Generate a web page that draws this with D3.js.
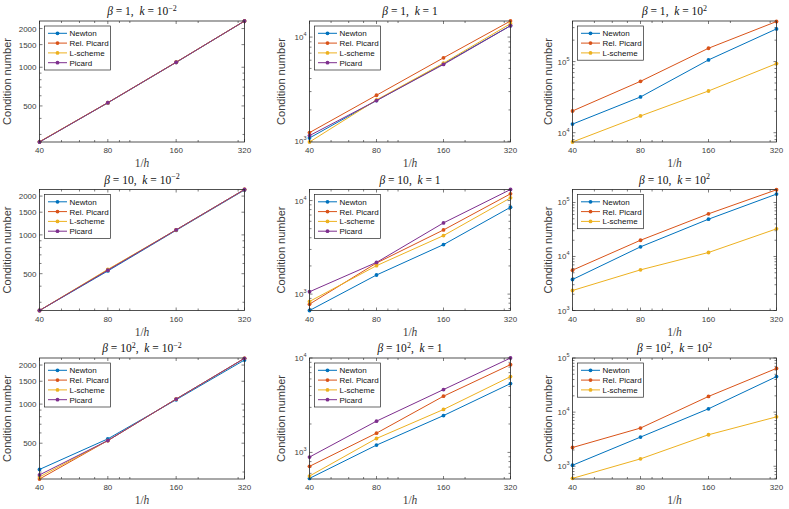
<!DOCTYPE html>
<html><head><meta charset="utf-8">
<script src="https://cdn.jsdelivr.net/npm/d3@7"></script>
<style>
body{margin:0;background:#fff}
</style>
</head><body>
<svg id="c" width="789" height="509"></svg>
<script>
// ---------- data ----------
const xValues = [40, 80, 160, 320];
const xTickLabels = ["40", "80", "160", "320"];
const xMinorTicks = [50, 60, 70, 90, 100, 200, 300];
const seriesNames = ["Newton", "Rel. Picard", "L-scheme", "Picard"];
const seriesColors = ["#0072BD", "#D95319", "#EDB120", "#7E2F8E"];
const linearYTicks = [500, 1000, 1500, 2000];

const betaBase = ["1", "10", "10"];
const betaExp  = ["", "", "2"];
const kBase    = ["10", "1", "10"];
const kExp     = ["\u22122", "", "2"];

// each panel: [Newton, Rel. Picard, L-scheme, Picard]
const b1_k001  = [[262, 528, 1090, 2285], [263, 530, 1094, 2290], [263, 530, 1094, 2290], [262, 530, 1094, 2290]];
const b1_k1    = [[1077, 2460, 5545, 12850], [1212, 2767, 6325, 14260], [985, 2495, 5625, 13430], [1134, 2460, 5460, 12850]];
const b1_k100  = [[13200, 31800, 105500, 288000], [20200, 52800, 154000, 366000], [7400, 17200, 38600, 93700]];
const b10_k001 = [[259, 525, 1085, 2230], [259, 535, 1094, 2250], [259, 540, 1094, 2250], [259, 532, 1094, 2250]];
const b10_k1   = [[668, 1600, 3380, 8480], [781, 2148, 4850, 11790], [834, 2013, 4220, 10680], [1059, 2182, 5770, 13120]];
const b10_k100 = [[3750, 15100, 49100, 143000], [5580, 20000, 61700, 172000], [2345, 5660, 11860, 32500]];
const b100_k001= [[314, 540, 1081, 2187], [265, 524, 1094, 2254], [275, 524, 1094, 2254], [285, 524, 1094, 2254]];
const b100_k1  = [[531, 1195, 2455, 5360], [712, 1600, 3940, 8500], [562, 1405, 2850, 6350], [893, 2145, 4630, 10000]];
const b100_k100= [[1045, 3460, 11530, 45300], [2220, 5080, 19500, 64300], [598, 1370, 3820, 8190]];

const panelData = [b1_k001, b1_k1, b1_k100, b10_k001, b10_k1, b10_k100, b100_k001, b100_k1, b100_k100];
const yDomains = [[262, 2290], [985, 14260], [7400, 372000],
                  [259, 2250], [668, 13120], [1000, 174000],
                  [265, 2266], [523, 10000], [582, 100000]];
const linearLabelPanel = [true, false, false, true, false, false, true, false, false];

// ---------- layout ----------
const colLeft = [39.5, 309.5, 572.5];
const colWidth = [205, 201, 204];
const rowTop = [21, 189.5, 358];
const plotH = 121;
const ylabelOffset = [-29, -25, -21];
const ink = "#262626";
const textInk = "#3c3c3c";
const sans = "'Liberation Sans', Arial, Helvetica, sans-serif";
const serif = "'Liberation Serif', 'Times New Roman', serif";

const svg = d3.select("#c");

panelData.forEach((series, p) => {
  const r = Math.floor(p / 3), c = p % 3;
  const L = colLeft[c], T = rowTop[r], W = colWidth[c], H = plotH;
  const x = d3.scaleLog().domain([40, 320]).range([L, L + W]);
  const y = d3.scaleLog().domain(yDomains[p]).range([T + H, T]);
  const g = svg.append("g");

  const [y0, y1] = yDomains[p];
  let majors, minors = [];
  if (linearLabelPanel[p]) {
    majors = linearYTicks.filter(v => v >= y0 && v <= y1);
  } else {
    majors = [];
    for (let e = 2; e <= 6; e++) { const v = Math.pow(10, e); if (v >= y0 * 0.999 && v <= y1 * 1.001) majors.push(v); }
  }
  for (let e = 2; e <= 6; e++) for (let d = 1; d <= 9; d++) {
    const v = d * Math.pow(10, e);
    if (v > y0 && v < y1 && !majors.includes(v) && !(linearLabelPanel[p] && d === 1)) minors.push(v);
  }
  if (linearLabelPanel[p]) minors = minors.filter(v => v < 1000);

  const tk = g.append("g").attr("stroke", ink).attr("stroke-width", 0.6);
  majors.forEach(v => {
    tk.append("line").attr("x1", L).attr("x2", L + 3).attr("y1", y(v)).attr("y2", y(v));
    tk.append("line").attr("x1", L + W).attr("x2", L + W - 3).attr("y1", y(v)).attr("y2", y(v));
  });
  minors.forEach(v => {
    tk.append("line").attr("x1", L).attr("x2", L + 2).attr("y1", y(v)).attr("y2", y(v));
    tk.append("line").attr("x1", L + W).attr("x2", L + W - 2).attr("y1", y(v)).attr("y2", y(v));
  });
  xValues.forEach(v => {
    tk.append("line").attr("x1", x(v)).attr("x2", x(v)).attr("y1", T + H).attr("y2", T + H - 3);
    tk.append("line").attr("x1", x(v)).attr("x2", x(v)).attr("y1", T).attr("y2", T + 3);
  });
  xMinorTicks.forEach(v => {
    tk.append("line").attr("x1", x(v)).attr("x2", x(v)).attr("y1", T + H).attr("y2", T + H - 2);
    tk.append("line").attr("x1", x(v)).attr("x2", x(v)).attr("y1", T).attr("y2", T + 2);
  });

  majors.forEach(v => {
    if (linearLabelPanel[p]) {
      g.append("text").attr("x", L - 3).attr("y", y(v) + 3)
        .attr("text-anchor", "end").attr("font-family", sans).attr("font-size", 8).attr("fill", textInk)
        .text(String(v));
    } else {
      const t = g.append("text").attr("x", L - 3).attr("y", y(v) + 3)
        .attr("text-anchor", "end").attr("font-family", sans).attr("font-size", 8).attr("fill", textInk);
      t.append("tspan").text("10");
      t.append("tspan").attr("dy", -4).attr("font-size", 5.5).text(String(Math.round(Math.log10(v))));
    }
  });

  xValues.forEach((v, i) => {
    g.append("text").attr("x", x(v)).attr("y", T + H + 11)
      .attr("text-anchor", "middle").attr("font-family", sans).attr("font-size", 8).attr("fill", textInk)
      .text(xTickLabels[i]);
  });

  const line = d3.line().x((d, i) => x(xValues[i])).y(d => y(d));
  series.forEach((vals, s) => {
    g.append("path").attr("d", line(vals)).attr("fill", "none")
      .attr("stroke", seriesColors[s]).attr("stroke-width", 1);
    vals.forEach((v, i) => {
      g.append("circle").attr("cx", x(xValues[i])).attr("cy", y(v)).attr("r", 1.9)
        .attr("fill", seriesColors[s]);
    });
  });

  g.append("rect").attr("x", L).attr("y", T).attr("width", W).attr("height", H)
    .attr("fill", "none").attr("stroke", ink).attr("stroke-width", 0.8);

  const n = series.length;
  const lx = L + 5, ly = T + 5, lw = 66, lh = 14.6 + (n - 1) * 9.8;
  const lg = g.append("g");
  lg.append("rect").attr("x", lx).attr("y", ly).attr("width", lw).attr("height", lh)
    .attr("fill", "#fff").attr("stroke", ink).attr("stroke-width", 0.7);
  for (let s = 0; s < n; s++) {
    const yy = ly + 7.3 + s * 9.8;
    lg.append("line").attr("x1", lx + 3.5).attr("x2", lx + 22.5).attr("y1", yy).attr("y2", yy)
      .attr("stroke", seriesColors[s]).attr("stroke-width", 1);
    lg.append("circle").attr("cx", lx + 13).attr("cy", yy).attr("r", 1.9).attr("fill", seriesColors[s]);
    lg.append("text").attr("x", lx + 25).attr("y", yy + 2.9)
      .attr("font-family", sans).attr("font-size", 8).attr("fill", "#111").text(seriesNames[s]);
  }

  g.append("text")
    .attr("transform", `translate(${L + ylabelOffset[c]},${T + H / 2}) rotate(-90)`)
    .attr("text-anchor", "middle").attr("font-family", sans).attr("font-size", 11).attr("fill", textInk)
    .text("Condition number");

  const xl = g.append("text").attr("x", L + W / 2).attr("y", T + H + 25)
    .attr("text-anchor", "middle").attr("font-family", serif).attr("font-size", 11.5).attr("fill", textInk);
  xl.append("tspan").text("1/");
  xl.append("tspan").attr("font-style", "italic").text("h");

  const tt = g.append("text").attr("x", L + W / 2).attr("y", T - 6)
    .attr("text-anchor", "middle").attr("font-family", serif).attr("font-size", 11.5).attr("fill", "#111");
  tt.append("tspan").attr("font-style", "italic").text("\u03B2");
  tt.append("tspan").text(" = " + betaBase[r]);
  if (betaExp[r]) {
    tt.append("tspan").attr("dy", -4.5).attr("font-size", 8).text(betaExp[r]);
    tt.append("tspan").attr("dy", 4.5).text(",\u2002");
  } else {
    tt.append("tspan").text(",\u2002");
  }
  tt.append("tspan").attr("font-style", "italic").text("k");
  tt.append("tspan").text(" = " + kBase[c]);
  if (kExp[c]) tt.append("tspan").attr("dy", -4.5).attr("font-size", 8).text(kExp[c]);
});
</script>
</body></html>
